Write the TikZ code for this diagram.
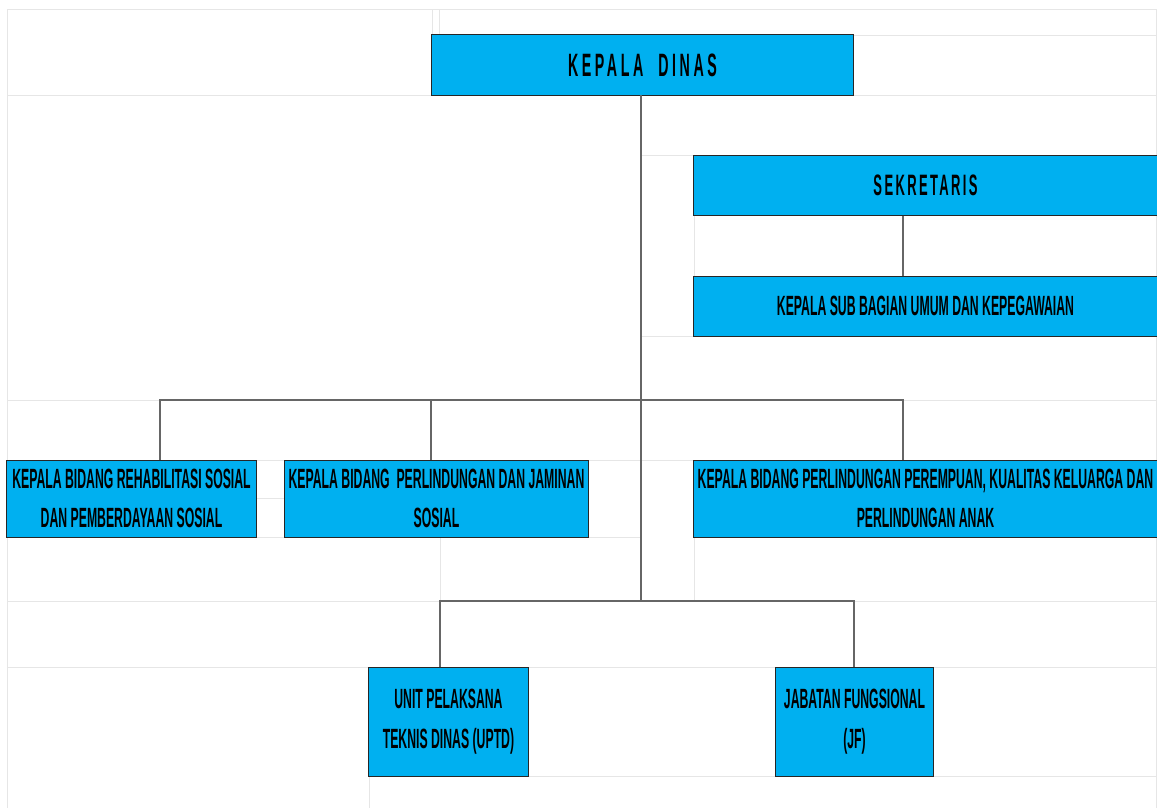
\documentclass[tikz,border=0pt]{standalone}
\usepackage{fontspec}
\newfontfamily\narrowfont[FakeStretch=0.44]{Liberation Sans}
\newfontfamily\spacedfont[FakeStretch=0.44,LetterSpace=11]{Liberation Sans}
\definecolor{cellblue}{HTML}{00B0F0}
\definecolor{gridgray}{HTML}{E6E6E6}
\newcommand{\cellfont}{\narrowfont\bfseries\fontsize{19.8}{28}\selectfont}
\newcommand{\headfont}{\spacedfont\bfseries\fontsize{23}{28}\selectfont}

\begin{document}
\begin{tikzpicture}[x=0.025cm, y=-0.025cm,
  box/.style={draw=black!85, line width=0.7pt, fill=cellblue, inner sep=0pt,
    align=center, font=\cellfont},
  link/.style={draw=black!60, line width=0.8pt},
  cell/.style={draw=gridgray, line width=0.7pt}]
  \useasboundingbox (0,0) rectangle (1157,808);
  % sheet grid
  \draw [cell]
    (7,9) -- (1156,9)   (853,35) -- (1156,35)
    (7,95) -- (1156,95) (641,155) -- (694,155)
    (641,336) -- (694,336) (7,400) -- (1156,400)
    (7,460) -- (1156,460) (256,498) -- (285,498)
    (7,537) -- (641,537) (7,601) -- (1156,601)
    (7,667) -- (1156,667) (369,776) -- (1156,776)
    (7,9) -- (7,808)    (1156,9) -- (1156,808)
    (432,9) -- (432,35) (439,9) -- (439,35)
    (694,215) -- (694,276)
    (440,537) -- (440,601) (694,537) -- (694,601)
    (369,776) -- (369,808);
  % boxes
  \node [box, minimum width=10.525cm, minimum height=1.5cm] (dinas) at (642.5,65)
    {\headfont KEPALA\ \ DINAS};
  \node [box, minimum width=11.575cm, minimum height=1.5cm] (sekretaris) at (925.5,185)
    {\addfontfeatures{LetterSpace=8}\fontsize{21}{28}\selectfont SEKRETARIS};
  \node [box, minimum width=11.575cm, minimum height=1.5cm] (subbag) at (925.5,306)
    {KEPALA SUB BAGIAN UMUM DAN KEPEGAWAIAN};
  \node [box, minimum width=6.225cm, minimum height=1.925cm] (rehab) at (131.5,498.5)
    {KEPALA BIDANG REHABILITASI SOSIAL\\DAN PEMBERDAYAAN SOSIAL};
  \node [box, minimum width=7.575cm, minimum height=1.925cm] (jaminan) at (436.5,498.5)
    {KEPALA BIDANG\ \ PERLINDUNGAN DAN JAMINAN\\SOSIAL};
  \node [box, minimum width=11.575cm, minimum height=1.925cm] (anak) at (925.5,498.5)
    {KEPALA BIDANG PERLINDUNGAN PEREMPUAN, KUALITAS KELUARGA DAN\\PERLINDUNGAN ANAK};
  \node [box, minimum width=3.975cm, minimum height=2.725cm] (uptd) at (448.5,721.5)
    {UNIT PELAKSANA\\TEKNIS DINAS (UPTD)};
  \node [box, minimum width=3.925cm, minimum height=2.725cm] (jf) at (854.5,721.5)
    {JABATAN FUNGSIONAL\\(JF)};
  % bus points
  \coordinate (trunk) at (641,601);
  \coordinate (busL) at (160,400);
  \coordinate (busM) at (431,400);
  \coordinate (busR) at (903,400);
  \coordinate (lowL) at (440,601);
  \coordinate (lowR) at (854,601);
  % connectors
  \draw [link] (dinas.south -| trunk) -- (trunk);
  \draw [link] (sekretaris.south -| busR) -- (subbag.north -| busR);
  \draw [link] (rehab.north -| busL) -- (busL) -- (busR) -- (anak.north -| busR);
  \draw [link] (busM) -- (jaminan.north -| busM);
  \draw [link] (uptd.north -| lowL) -- (lowL) -- (lowR) -- (jf.north -| lowR);
\end{tikzpicture}
\end{document}
